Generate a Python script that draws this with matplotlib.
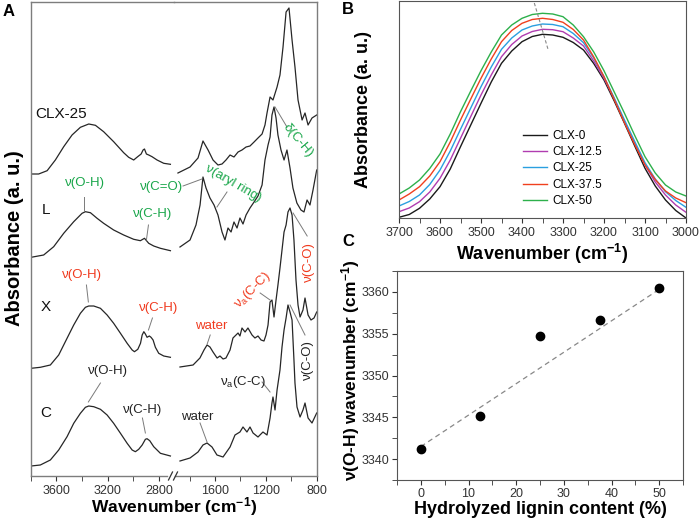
import numpy as np
import matplotlib
matplotlib.use('Agg')
import matplotlib.pyplot as plt
from matplotlib.ticker import MultipleLocator, FixedLocator
from matplotlib.lines import Line2D

plt.rcParams['font.family'] = ['Liberation Sans', 'DejaVu Sans']
plt.rcParams['mathtext.default'] = 'regular'

# ---------------- Panel A: FTIR spectra (stacked, arbitrary units) ----------------
# high-wavenumber segment (3800-2690 cm-1)
c25_hi_wn = [3797, 3738, 3672, 3608, 3543, 3478, 3413, 3348, 3296, 3232, 3154, 3076, 3037, 2998, 2967, 2940,
             2925, 2914, 2899, 2881, 2855, 2816, 2764, 2712]
c25_hi_ab = [302, 302, 305.3, 316, 329.3, 341, 348.7, 352, 350.7, 344.3, 334.3, 323.3, 318.7, 316, 319.3, 322,
             326, 327, 322, 321, 319.3, 316, 312.7, 311.7]
L_hi_wn = [3797, 3699, 3621, 3543, 3465, 3400, 3374, 3335, 3283, 3232, 3154, 3076, 2998, 2946, 2914, 2881,
           2842, 2790, 2712]
L_hi_ab = [218.7, 221, 229.3, 242.7, 254.3, 262.7, 264.3, 263.3, 257.7, 252.7, 246, 241, 236.7, 235.3, 237.7,
           232.7, 230, 227.7, 225.3]
X_hi_wn = [3797, 3725, 3647, 3582, 3517, 3465, 3413, 3374, 3348, 3309, 3257, 3205, 3154, 3101, 3049, 3010,
           2992, 2966, 2945, 2932, 2919, 2907, 2894, 2876, 2863, 2847, 2829, 2803, 2764, 2712]
X_hi_ab = [107.7, 108.7, 111, 121, 137.7, 151, 162.7, 168.7, 170, 170, 167.7, 161, 152.7, 142.7, 132.7, 126,
           124.3, 126.7, 132.7, 141, 144.3, 142, 138.7, 140, 138.7, 136, 128.7, 122.7, 120, 118.7]
C_hi_wn = [3797, 3725, 3647, 3582, 3517, 3465, 3413, 3374, 3348, 3309, 3257, 3205, 3154, 3101, 3049, 3010,
           2985, 2959, 2932, 2907, 2894, 2873, 2842, 2790, 2712]
C_hi_ab = [10, 11, 16, 26, 39.3, 52.7, 62.7, 68.7, 70, 69.3, 66.7, 61, 52.7, 42.7, 32.7, 26,
           24.3, 26.7, 31, 36.7, 37.3, 35.3, 29.3, 22.7, 20]

# fingerprint segment (1925-800 cm-1)
c25_lo_wn = [1892, 1797, 1734, 1695, 1655, 1616, 1577, 1545, 1514, 1482, 1451, 1419, 1388, 1356, 1325, 1293,
             1262, 1230, 1207, 1191, 1167, 1144, 1112, 1089, 1065, 1041, 1018, 994, 971, 947, 915, 892, 868, 837, 800]
c25_lo_ab = [303, 309, 318, 335, 326, 316, 311, 312, 316, 321, 319, 324, 326, 329, 330, 334,
             338, 342, 351, 363, 379, 376, 389, 401, 429, 464, 468, 436, 409, 376, 356, 363, 351, 358, 361]
L_lo_wn = [1876, 1797, 1750, 1718, 1695, 1671, 1640, 1608, 1577, 1545, 1522, 1498, 1474, 1451, 1427, 1404, 1380,
           1356, 1325, 1293, 1262, 1230, 1207, 1183, 1167, 1152, 1136, 1120, 1105, 1081, 1057, 1034, 1010, 987,
           956, 924, 900, 876, 853, 829, 800]
L_lo_ab = [229, 236, 251, 271, 299, 288, 278, 271, 261, 244, 236, 248, 244, 254, 248, 258, 252,
           261, 268, 274, 280, 291, 316, 331, 339, 361, 369, 358, 341, 326, 316, 326, 308, 288,
           273, 266, 264, 276, 271, 286, 306]
X_lo_wn = [1876, 1773, 1719, 1687, 1663, 1640, 1616, 1584, 1561, 1537, 1514, 1482, 1459, 1435, 1419, 1404, 1388,
           1364, 1341, 1309, 1286, 1262, 1238, 1215, 1199, 1183, 1167, 1152, 1136, 1120, 1105, 1089, 1073, 1057,
           1041, 1026, 1010, 994, 979, 963, 947, 931, 908, 892, 868, 845, 821, 800]
X_lo_ab = [109, 111, 118, 126, 131, 129, 124, 118, 120, 117, 118, 126, 138, 141, 143, 140, 148,
           144, 148, 141, 138, 140, 136, 135, 141, 151, 174, 176, 159, 176, 191, 208, 226, 244,
           251, 264, 268, 261, 236, 196, 171, 159, 166, 178, 161, 156, 158, 164]
C_lo_wn = [1876, 1797, 1734, 1695, 1663, 1624, 1585, 1537, 1482, 1443, 1404, 1380, 1349, 1325, 1301, 1262, 1223,
           1191, 1167, 1152, 1144, 1128, 1112, 1089, 1073, 1057, 1041, 1026, 1010, 994, 979, 971, 955, 931,
           908, 892, 868, 837, 800]
C_lo_ab = [15, 18, 24, 31, 33, 29, 21, 19, 29, 41, 44, 49, 44, 49, 43, 39, 44,
           41, 58, 73, 79, 66, 86, 106, 129, 146, 158, 171, 164, 156, 116, 93, 69, 59,
           66, 73, 58, 53, 63]

# ---------------- Panel B: O-H band ----------------
wn_B = [3700, 3675, 3650, 3625, 3600, 3575, 3550, 3525, 3500, 3475, 3450, 3425, 3400, 3375, 3350, 3325,
        3300, 3275, 3250, 3225, 3200, 3175, 3150, 3125, 3100, 3075, 3050, 3025, 3000]
clx0 = [0.7, 3.5, 9.7, 19, 31.3, 49, 71.3, 93, 114.7, 136, 154.7, 167, 176.3, 181.5, 183.7, 183,
        180.7, 175.5, 168, 154.5, 138, 117, 94.7, 72, 49.7, 32, 18, 7.5, 0]
clx12 = [6.3, 10, 16.3, 26, 39.7, 58, 79.7, 101.5, 123, 143, 161.3, 173.5, 182, 186.5, 188.7, 188.3,
         186.3, 180, 172, 157, 139.7, 119, 96.3, 74.5, 53, 36, 23, 13, 5.7]
clx25 = [12, 16.5, 23, 33.5, 48, 67, 88.7, 110, 131.3, 151, 168.7, 180, 188, 192, 194, 193.5,
         191.3, 184.5, 175.3, 160, 141.3, 120, 98, 76.5, 55.3, 39, 26.3, 17.5, 10.7]
clx37 = [18, 24, 31.3, 42, 56.3, 76, 98, 119, 139.7, 159, 176.3, 187.5, 194.7, 198.5, 199.7, 198.5,
         195.7, 188.5, 178, 161, 141.3, 118.5, 95.3, 73.5, 53, 38.5, 27, 20, 15.3]
clx50 = [24, 30, 38, 49.5, 64, 84, 106.3, 127, 147.3, 166, 183, 193, 199.7, 203.5, 204.7, 204,
         201.3, 193, 181.3, 166, 147.3, 126, 104.7, 82.5, 61.3, 45, 33, 26, 22]
B_labels = ['CLX-0', 'CLX-12.5', 'CLX-25', 'CLX-37.5', 'CLX-50']
B_colors = ['#1a1a1a', '#b03cb0', '#2a9fe0', '#f0401e', '#2db04b']
guide_wn = [3370, 3336]
guide_ab = [215, 168]

# ---------------- Panel C: peak position vs lignin content ----------------
lignin = [0, 12.5, 25, 37.5, 50]
wn_oh = [3341.2, 3345.1, 3354.7, 3356.6, 3360.5]
fit_x = [0, 50]
fit_y = [3341.5, 3360.3]

# ---------------- figure ----------------
W, H = 700, 518
fig = plt.figure(figsize=(7.0, 5.18), dpi=100)

def box(x0, y0, x1, y1):
    return [x0 / W, 1 - y1 / H, (x1 - x0) / W, (y1 - y0) / H]

GREEN = '#19a64a'
RED = '#f03a1e'
LEAD = '#7a7a7a'
SPA = '#7d7d7d'
TICKFS = 9

axL = fig.add_axes(box(30.7, 2, 173.5, 476))
axR = fig.add_axes(box(173.5, 2, 316.7, 476))
for ax in (axL, axR):
    ax.patch.set_visible(False)
    ax.set_ylim(0, 474)
    ax.set_yticks([])
    for s in ax.spines.values():
        s.set_color(SPA)
        s.set_linewidth(1.0)
    ax.tick_params(axis='x', which='both', direction='out', colors='#333333', labelsize=TICKFS,
                   pad=3, length=3.5)
axL.set_xlim(3800, 2688)
axR.set_xlim(1927, 800)
axL.spines['right'].set_visible(False)
axR.spines['left'].set_visible(False)
axL.spines['bottom'].set_bounds(3800, 2735)
axR.spines['bottom'].set_bounds(1915, 800)
axL.xaxis.set_major_locator(FixedLocator([3600, 3200, 2800]))
axL.xaxis.set_minor_locator(FixedLocator([3800, 3400, 3000]))
axR.xaxis.set_major_locator(FixedLocator([1600, 1200, 800]))
axR.xaxis.set_minor_locator(FixedLocator([1800, 1400, 1000]))

lc = '#262626'
lw = 0.9
for wn, ab in [(c25_hi_wn, c25_hi_ab), (L_hi_wn, L_hi_ab), (X_hi_wn, X_hi_ab), (C_hi_wn, C_hi_ab)]:
    axL.plot(wn, ab, color=lc, lw=lw)
for wn, ab in [(c25_lo_wn, c25_lo_ab), (L_lo_wn, L_lo_ab), (X_lo_wn, X_lo_ab), (C_lo_wn, C_lo_ab)]:
    axR.plot(wn, ab, color=lc, lw=lw)

# break marks
for xs in (168.5, 173.5):
    fig.add_artist(Line2D([xs / W, (xs + 4) / W], [1 - 480 / H, 1 - 472 / H],
                          transform=fig.transFigure, color='#333333', lw=0.9))

# sample labels
for txt, wn, y in [('CLX-25', 3561, 362), ('L', 3678, 266), ('X', 3686, 169), ('C', 3686, 63)]:
    axL.text(wn, y, txt, fontsize=11, ha='center', va='center', color='#111111')

def lead(ax, p, q):
    ax.plot([p[0], q[0]], [p[1], q[1]], color=LEAD, lw=0.7, clip_on=False)

BF = 9.5
# lignin (green)
axL.text(3374, 293, 'ν(O-H)', color=GREEN, fontsize=BF, ha='center', va='center')
lead(axL, (3382, 279), (3382, 265))
axL.text(2852, 262, 'ν(C-H)', color=GREEN, fontsize=BF, ha='center', va='center')
lead(axL, (2883, 251), (2899, 236))
axL.text(2782, 289, 'ν(C=O)', color=GREEN, fontsize=BF, ha='center', va='center')
lead(axR, (1852, 290), (1703, 297))
axR.text(1459, 293, 'ν(aryl ring)', color=GREEN, fontsize=BF, ha='center', va='center', rotation=-30,
         rotation_mode='anchor')
lead(axR, (1506, 284), (1585, 269))
axR.text(947, 336, 'δ(C-H)', color=GREEN, fontsize=BF, ha='center', va='center', rotation=-50,
         rotation_mode='anchor')
lead(axR, (1128, 369), (1034, 349))
# xylan (red)
axL.text(3397, 201, 'ν(O-H)', color=RED, fontsize=BF, ha='center', va='center')
lead(axL, (3366, 191), (3351, 174))
axL.text(2805, 168, 'ν(C-H)', color=RED, fontsize=BF, ha='center', va='center')
lead(axL, (2852, 158), (2883, 146))
axR.text(1630, 150, 'water', color=RED, fontsize=BF, ha='center', va='center')
lead(axR, (1638, 141), (1662, 132))
axR.text(1308, 186, r'ν$_{\mathregular{a}}$(C-C)', color=RED, fontsize=BF, ha='center', va='center',
         rotation=45, rotation_mode='anchor')
lead(axR, (1245, 183), (1167, 176))
axR.text(858, 214, 'ν(C-O)', color=RED, fontsize=BF, ha='center', va='center', rotation=90)
lead(axR, (986, 263), (875, 240))
# cellulose (black)
axR.text(1742, 59, 'water', color='#222222', fontsize=BF, ha='center', va='center')
lead(axR, (1718, 53), (1663, 34))
axR.text(1380, 94, r'ν$_{\mathregular{a}}$(C-C)', color='#222222', fontsize=BF, ha='center', va='center')
lead(axR, (1230, 94), (1167, 84))
axR.text(866, 116, 'ν(C-O)', color='#222222', fontsize=BF, ha='center', va='center', rotation=90)
lead(axR, (892, 141), (1010, 171))
axL.text(3195, 105, 'ν(O-H)', color='#222222', fontsize=BF, ha='center', va='center')
lead(axL, (3257, 93), (3351, 74))
axL.text(2930, 66, 'ν(C-H)', color='#222222', fontsize=BF, ha='center', va='center')
lead(axL, (2930, 58), (2907, 43))

fig.text(174 / W, 1 - 507 / H, r'Wavenumber (cm$^{\mathregular{-1}}$)', fontsize=12.5, fontweight='bold',
         ha='center', va='center')
fig.text(15 / W, 1 - 238 / H, 'Absorbance (a. u.)', fontsize=14.5, fontweight='bold', rotation=90,
         ha='center', va='center')

# ---------------- Panel B ----------------
axB = fig.add_axes(box(399, 1, 686, 218))
for y, lab, col in zip([clx0, clx12, clx25, clx37, clx50], B_labels, B_colors):
    axB.plot(wn_B, y, color=col, lw=1.0, label=lab)
axB.plot(guide_wn, guide_ab, color='#888888', lw=0.8, ls=(0, (3, 2)))
axB.set_xlim(3700, 3000)
axB.set_ylim(0, 217)
axB.set_yticks([])
axB.xaxis.set_major_locator(MultipleLocator(100))
axB.xaxis.set_minor_locator(MultipleLocator(50))
axB.tick_params(axis='x', which='both', direction='out', length=3.5, labelsize=TICKFS, pad=3, colors='#333333')
for s in axB.spines.values():
    s.set_color('#555555')
axB.set_xlabel(r'Wavenumber (cm$^{\mathregular{-1}}$)', fontsize=13, fontweight='bold', labelpad=2)
fig.text(364 / W, 1 - 110 / H, 'Absorbance (a. u.)', fontsize=13, fontweight='bold', rotation=90,
         ha='center', va='center')
leg = axB.legend(loc='upper left', bbox_to_anchor=(523 / W, 1 - 130 / H), bbox_transform=fig.transFigure,
                 frameon=False, fontsize=8.5, handlelength=2.0, handletextpad=0.5, labelspacing=0.36,
                 borderpad=0, borderaxespad=0)

# ---------------- Panel C ----------------
axC = fig.add_axes(box(397, 271, 683, 480))
axC.plot(fit_x, fit_y, color='#888888', lw=0.9, ls=(0, (4, 3)))
axC.plot(lignin, wn_oh, 'o', color='black', markersize=6)
axC.set_xlim(-5, 55)
axC.set_ylim(3337.5, 3362.5)
axC.xaxis.set_major_locator(MultipleLocator(10))
axC.xaxis.set_minor_locator(MultipleLocator(5))
axC.yaxis.set_major_locator(MultipleLocator(5))
axC.yaxis.set_minor_locator(MultipleLocator(2.5))
axC.tick_params(which='both', direction='out', length=3.5, labelsize=TICKFS, pad=2, colors='#333333')
for s in axC.spines.values():
    s.set_color('#555555')
axC.set_xlabel('Hydrolyzed lignin content (%)', fontsize=13, fontweight='bold', labelpad=1)
fig.text(351 / W, 1 - 370 / H, r'ν(O-H) wavenumber (cm$^{\mathregular{-1}}$)', fontsize=12.5,
         fontweight='bold', rotation=90, ha='center', va='center')

# panel letters
fig.text(9 / W, 1 - 12 / H, 'A', fontsize=12, fontweight='bold', ha='center', va='center')
fig.text(348 / W, 1 - 10 / H, 'B', fontsize=12, fontweight='bold', ha='center', va='center')
fig.text(348 / W, 1 - 241 / H, 'C', fontsize=12, fontweight='bold', ha='center', va='center')

fig.savefig('out.png', dpi=100)
